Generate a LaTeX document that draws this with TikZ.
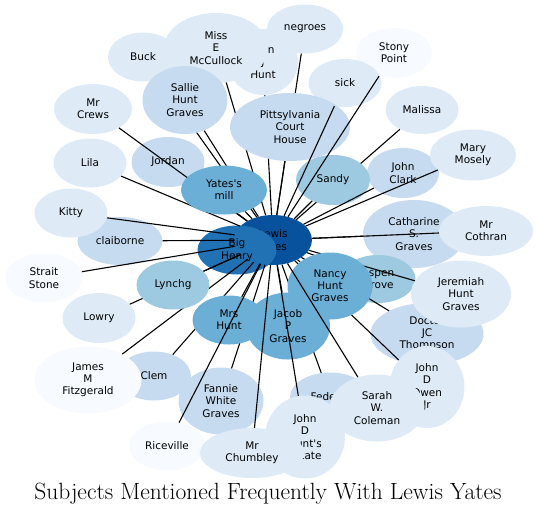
\documentclass[tikz,border=0pt]{standalone}
\usepackage{fontspec}
\newfontfamily\blobfont{DejaVu Sans}
\usetikzlibrary{shapes.geometric}
\definecolor{b1}{HTML}{F7FBFF}
\definecolor{b2}{HTML}{DEEBF7}
\definecolor{b3}{HTML}{C6DBEF}
\definecolor{b4}{HTML}{9ECAE1}
\definecolor{b5}{HTML}{6BAED6}
\definecolor{b6}{HTML}{2171B5}
\definecolor{b7}{HTML}{08519C}
\pgfdeclarelayer{under}
\pgfdeclarelayer{over}
\pgfdeclarelayer{front}
\pgfsetlayers{under,main,over,front}
\tikzstyle{blob} = [ellipse, inner sep=0pt, align=center, text=black, font=\blobfont\fontsize{10.5pt}{12.2pt}\selectfont]
\tikzstyle{link} = [line width=1.1pt, black]

\begin{document}
\begin{tikzpicture}[x=1pt, y=-1pt]
\useasboundingbox (0,0) rectangle (537,515);

\begin{pgfonlayer}{under}
\node[blob, fill=b2, minimum width=70pt, minimum height=66pt] (jhunt) at (263,62) {John\\J\\Hunt};
\node[blob, fill=b2, minimum width=70pt, minimum height=49pt] (buck) at (143,57) {Buck};
\node[blob, fill=b2, minimum width=104pt, minimum height=70pt] (mccullock) at (216,48) {Miss\\E\\McCullock};
\node[blob, fill=b2, minimum width=76pt, minimum height=49pt] (negroes) at (305,29) {negroes};
\node[blob, fill=b1, minimum width=76pt, minimum height=50pt] (stony) at (394,53) {Stony\\Point};
\node[blob, fill=b2, minimum width=73pt, minimum height=48pt] (sick) at (345,83) {sick};
\node[blob, fill=b2, minimum width=73pt, minimum height=48pt] (malissa) at (422,110) {Malissa};
\node[blob, fill=b3, minimum width=72pt, minimum height=50pt] (clark) at (403,173) {John\\Clark};
\node[blob, fill=b2, minimum width=86pt, minimum height=51pt] (mosely) at (473,155) {Mary\\Mosely};
\node[blob, fill=b3, minimum width=102pt, minimum height=68pt] (catharine) at (414,234) {Catharine\\S.\\Graves};
\node[blob, fill=b4, minimum width=75pt, minimum height=48pt] (aspen) at (378,279) {Aspen\\Grove};
\node[blob, fill=b2, minimum width=94pt, minimum height=50pt] (cothran) at (486,231) {Mr\\Cothran};
\node[blob, fill=b2, minimum width=78pt, minimum height=50pt] (crews) at (93,109) {Mr\\Crews};
\node[blob, fill=b2, minimum width=73pt, minimum height=49pt] (lila) at (90,163) {Lila};
\node[blob, fill=b3, minimum width=73pt, minimum height=50pt] (jordan) at (168,162) {Jordan};
\node[blob, fill=b3, minimum width=85pt, minimum height=48pt] (claiborne) at (120,241) {claiborne};
\node[blob, fill=b2, minimum width=73pt, minimum height=49pt] (kitty) at (71,213) {Kitty};
\node[blob, fill=b1, minimum width=78pt, minimum height=49pt] (strait) at (44,278) {Strait\\Stone};
\node[blob, fill=b2, minimum width=73pt, minimum height=50pt] (lowry) at (99,318) {Lowry};
\node[blob, fill=b7, minimum width=78pt, minimum height=50pt] (lewis) at (273,240) {Lewis\\Yates};
\node[blob, fill=b6, minimum width=79pt, minimum height=49pt] (henry) at (237,250) {Big\\Henry};
\node[blob, fill=b3, minimum width=113pt, minimum height=62pt] (doctor) at (427,334) {Doctor\\JC\\Thompson};
\node[blob, fill=b2, minimum width=100pt, minimum height=67pt] (jeremiah) at (461,294) {Jeremiah\\Hunt\\Graves};
\node[blob, fill=b2, minimum width=75pt, minimum height=82pt] (owen) at (427,387) {John\\D\\Owen\\Jr};
\node[blob, fill=b3, minimum width=80pt, minimum height=49pt] (federal) at (330,397) {Federal};
\node[blob, fill=b2, minimum width=80pt, minimum height=83pt] (estate) at (305,437) {John\\D\\Hunt's\\estate};
\node[blob, fill=b2, minimum width=95pt, minimum height=67pt] (sarah) at (377,408) {Sarah\\W.\\Coleman};
\node[blob, fill=b3, minimum width=74pt, minimum height=49pt] (clem) at (154,376) {Clem};
\node[blob, fill=b1, minimum width=107pt, minimum height=67pt] (james) at (88,380) {James\\M\\Fitzgerald};
\node[blob, fill=b3, minimum width=85pt, minimum height=67pt] (fannie) at (221,401) {Fannie\\White\\Graves};
\node[blob, fill=b1, minimum width=76pt, minimum height=49pt] (riceville) at (167,446) {Riceville};
\node[blob, fill=b2, minimum width=104pt, minimum height=50pt] (chumbley) at (252,453) {Mr\\Chumbley};
\end{pgfonlayer}

\begin{pgfonlayer}{over}
\node[blob, fill=b3, minimum width=85pt, minimum height=68pt] (sallie) at (185,100) {Sallie\\Hunt\\Graves};
\node[blob, fill=b5, minimum width=86pt, minimum height=49pt] (mill) at (224,190) {Yates's\\mill};
\node[blob, fill=b3, minimum width=120pt, minimum height=68pt] (court) at (290,127) {Pittsylvania\\Court\\House};
\node[blob, fill=b4, minimum width=74pt, minimum height=50pt] (sandy) at (333,180) {Sandy};
\node[blob, fill=b4, minimum width=73pt, minimum height=49pt] (lynchg) at (173,285) {Lynchg};
\node[blob, fill=b5, minimum width=73pt, minimum height=49pt] (mrshunt) at (229,320) {Mrs\\Hunt};
\node[blob, fill=b5, minimum width=84pt, minimum height=67pt] (jacob) at (288,326) {Jacob\\P\\Graves};
\node[blob, fill=b5, minimum width=85pt, minimum height=67pt] (nancy) at (330,286) {Nancy\\Hunt\\Graves};
\end{pgfonlayer}

\draw[link] (lewis) -- (buck);
\draw[link] (lewis) -- (mccullock);
\draw[link] (lewis) -- (jhunt);
\draw[link] (lewis) -- (negroes);
\draw[link] (lewis) -- (court);
\draw[link] (lewis) -- (malissa);
\draw[link] (lewis) -- (mosely);
\draw[link] (lewis) -- (sandy);
\draw[link] (lewis) -- (catharine);
\draw[link] (lewis) -- (cothran);
\draw[link] (lewis) -- (jeremiah);
\draw[link] (lewis) -- (aspen);
\draw[link] (lewis) -- (nancy);
\draw[link] (lewis) -- (doctor);
\draw[link] (lewis) -- (owen);
\draw[link] (lewis) -- (federal);
\draw[link] (lewis) -- (jacob);
\draw[link] (lewis) -- (fannie);
\draw[link] (lewis) -- (mrshunt);
\draw[link] (lewis) -- (clem);
\draw[link] (lewis) -- (james);
\draw[link] (lewis) -- (lowry);
\draw[link] (lewis) -- (lynchg);
\draw[link] (lewis) -- (strait);
\draw[link] (lewis) -- (claiborne);
\draw[link] (lewis) -- (kitty);
\draw[link] (lewis) -- (lila);
\draw[link] (lewis) -- (jordan);
\draw[link] (lewis) -- (crews);
\draw[link] (lewis) -- (sallie);
\draw[link] (lewis) -- (mill);

\begin{pgfonlayer}{front}
\draw[link] (lewis) -- (sick);
\draw[link] (lewis) -- (stony);
\draw[link] (lewis) -- (clark);
\draw[link] (lewis) -- (sarah);
\draw[link] (lewis) -- (estate);
\draw[link] (lewis) -- (chumbley);
\draw[link] (lewis) -- (riceville);
\end{pgfonlayer}

\node[font=\fontsize{23.5pt}{28pt}\selectfont] (title) at (268,494) {Subjects Mentioned Frequently With Lewis Yates};
\end{tikzpicture}
\end{document}
